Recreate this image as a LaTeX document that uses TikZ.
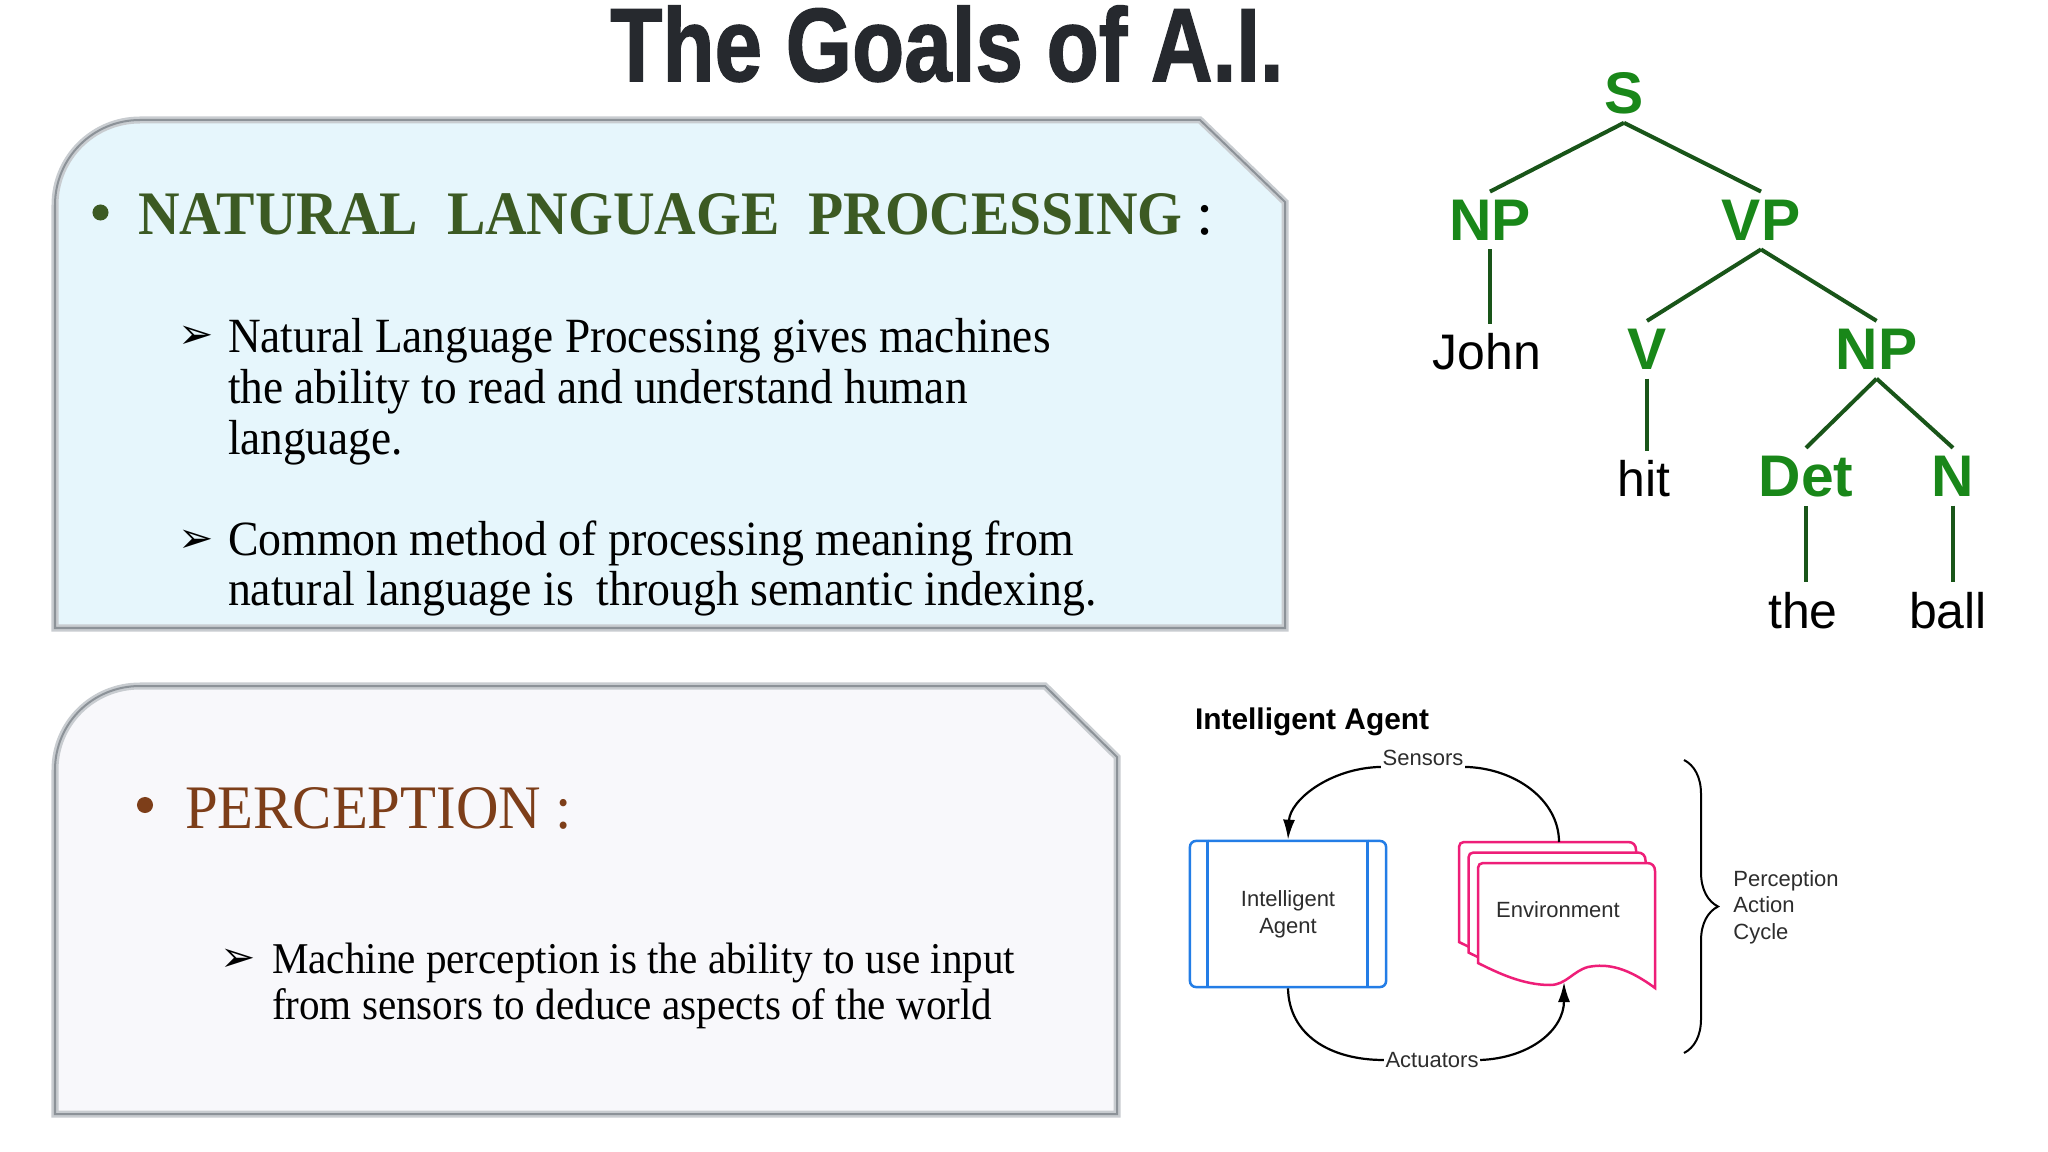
\documentclass[tikz,border=0pt]{standalone}
\usepackage{fontspec}
\setmainfont{Liberation Serif}
\newfontfamily\arialf{Liberation Sans}
\newfontfamily\titlef[BoldFeatures={FakeBold=1.5}]{Liberation Sans}
\newfontfamily\dejavuf{DejaVu Sans}
\usetikzlibrary{arrows.meta,calc,decorations.pathreplacing}
\definecolor{titlecol}{RGB}{38,41,46}
\definecolor{nlpgreen}{RGB}{60,90,35}
\definecolor{percbrown}{RGB}{125,62,25}
\definecolor{treegreen}{RGB}{25,135,25}
\definecolor{treeline}{RGB}{25,85,25}
\definecolor{boxblue}{RGB}{230,246,252}
\definecolor{boxgrey}{RGB}{248,248,251}
\definecolor{bevelout}{RGB}{200,204,208}
\definecolor{bevelin}{RGB}{140,146,152}
\definecolor{agentblue}{RGB}{35,125,230}
\definecolor{envpink}{RGB}{238,30,120}
\definecolor{lblgrey}{RGB}{45,45,45}
\begin{document}
\begin{tikzpicture}[x=0.01cm,y=-0.01cm,
  txt/.style={inner sep=0pt, outer sep=0pt},
  treecat/.style={font=\arialf\bfseries\fontsize{16.7}{18}\selectfont, text=treegreen, inner sep=0.08cm, anchor=base},
  treeword/.style={font=\arialf\fontsize{14.2}{16}\selectfont, text=black, inner sep=0.09cm, anchor=base},
  treeedge/.style={draw=treeline, line width=0.04cm},
  smalllbl/.style={font=\arialf\fontsize{6.26}{7.6}\selectfont, text=lblgrey},
  cycleline/.style={line width=0.022cm},
  cyclearrow/.style={line width=0.022cm, -{Latex[length=0.2cm,width=0.12cm]}},
  envdoc/.style={draw=envpink, line width=0.025cm, fill=white},
  bevelA/.style={line width=0.07cm, draw=bevelout},
  bevelB/.style={line width=0.02cm, draw=bevelin},
  arrowbullet/.style={inner sep=0pt, outer sep=0pt, font=\dejavuf\fontsize{12}{13}\selectfont}]
\fill[white] (0,0) rectangle (2048,1152);
\useasboundingbox (0,0) rectangle (2048,1152);

% ---------- boxes ----------
\draw[bevelA, fill=boxblue] (55,628) -- (55,205) .. controls (55,158) and (93,120) .. (140,120) -- (1200,120) -- (1285,202) -- (1285,628) -- cycle;
\draw[bevelB] (55,628) -- (55,205) .. controls (55,158) and (93,120) .. (140,120) -- (1200,120) -- (1285,202) -- (1285,628) -- cycle;
\draw[bevelA, fill=boxgrey] (55,1114) -- (55,770) .. controls (55,723) and (93,686) .. (140,686) -- (1045,686) -- (1117,757) -- (1117,1114) -- cycle;
\draw[bevelB] (55,1114) -- (55,770) .. controls (55,723) and (93,686) .. (140,686) -- (1045,686) -- (1117,757) -- (1117,1114) -- cycle;

% ---------- title ----------
\node[txt, anchor=base, font=\titlef\bfseries\fontsize{29.6}{32}\selectfont, text=titlecol] (title) at (947,81) {\scalebox{0.82}[1]{The Goals of A.I.}};

% ---------- NLP text ----------
\node[circle, fill=nlpgreen, minimum size=0.16cm, inner sep=0pt] (b1) at (100.5,212.5) {};
\node[txt, anchor=base west, font=\bfseries\fontsize{17.6}{20}\selectfont, text=nlpgreen] (nlp) at (138,235) {\scalebox{0.93}[1]{NATURAL\ \ LANGUAGE\ \ PROCESSING}};
\node[txt, anchor=base west, font=\fontsize{17.6}{20}\selectfont] (nlpc) at (1196,235) {:};
\node[arrowbullet] (a1) at (196,337) {➢};
\node[txt, anchor=base west, font=\fontsize{14}{14.5}\selectfont] (p1) at (228,353) {\scalebox{0.92}[1]{\begin{tabular}[t]{@{}l@{}}Natural Language Processing gives machines\\ the ability to read and understand human\\ language.\end{tabular}}};
\node[arrowbullet] (a2) at (196,541) {➢};
\node[txt, anchor=base west, font=\fontsize{14}{14.5}\selectfont] (p2) at (228,555) {\scalebox{0.93}[1]{\begin{tabular}[t]{@{}l@{}}Common method of processing meaning from\\ natural language is\ \ through semantic indexing.\end{tabular}}};

% ---------- Perception text ----------
\node[circle, fill=percbrown, minimum size=0.16cm, inner sep=0pt] (b2) at (145,805) {};
\node[txt, anchor=base west, font=\fontsize{17.6}{20}\selectfont, text=percbrown] (perc) at (185,828) {\scalebox{0.95}[1]{PERCEPTION :}};
\node[arrowbullet] (a3) at (238,960) {➢};
\node[txt, anchor=base west, font=\fontsize{12.5}{13.1}\selectfont] (p3) at (272,973) {\scalebox{0.935}[1]{\begin{tabular}[t]{@{}l@{}}Machine perception is the ability to use input\\ from sensors to deduce aspects of the world\end{tabular}}};

% ---------- parse tree ----------
\node[treecat] (S) at (1624,113.5) {S};
\node[treecat] (NP) at (1490,240.7) {NP};
\node[treecat] (VP) at (1761,240.7) {VP};
\node[treeword] (John) at (1487,370) {John};
\node[treecat] (V) at (1647,370) {V};
\node[treecat] (NP2) at (1876.6,370) {NP};
\node[treeword] (hit) at (1644,497) {hit};
\node[treecat] (Det) at (1806,497) {Det};
\node[treecat] (N) at (1953,497) {N};
\node[treeword] (the) at (1803,628) {the};
\node[treeword] (ball) at (1948,628) {ball};
\draw[treeedge] (S.south) -- (NP.north);
\draw[treeedge] (S.south) -- (VP.north);
\draw[treeedge] (NP.south) -- (NP.south |- John.north);
\draw[treeedge] (VP.south) -- (V.north);
\draw[treeedge] (VP.south) -- (NP2.north);
\draw[treeedge] (V.south) -- (V.south |- hit.north);
\draw[treeedge] (NP2.south) -- (Det.north);
\draw[treeedge] (NP2.south) -- (N.north);
\draw[treeedge] (Det.south) -- (Det.south |- the.north);
\draw[treeedge] (N.south) -- (N.south |- ball.north);

% ---------- intelligent agent diagram ----------
\node[txt, anchor=base west, font=\arialf\bfseries\fontsize{8.5}{10}\selectfont] (iatitle) at (1195,729) {Intelligent Agent};
\node[draw=agentblue, line width=0.025cm, rounded corners=0.06cm, minimum width=1.96cm, minimum height=1.46cm, inner sep=0pt, smalllbl, align=center] (agent) at (1288,914) {Intelligent\\Agent};
\draw[agentblue, line width=0.025cm] ($(agent.north west)+(19,0)$) -- ($(agent.south west)+(19,0)$);
\draw[agentblue, line width=0.025cm] ($(agent.north east)+(-20,0)$) -- ($(agent.south east)+(-20,0)$);

\foreach \dx/\dy in {0/0, 9.5/10.5, 19/21} {
  \begin{scope}[shift={(1459+\dx,842+\dy)}]
    \draw[envdoc] (0,100) -- (0,5) .. controls (0,2) and (2,0) .. (5,0) -- (169,0) .. controls (174,0) and (177,3) .. (177,8) -- (177,125) .. controls (150,105) and (130,100) .. (110,104) .. controls (95,108) and (88,122) .. (72,122) .. controls (45,122) and (20,110) .. (0,100) -- cycle;
  \end{scope}
}
\node[smalllbl] (env) at (1558,910) {Environment};
\coordinate (envtop) at (1559,842);
\coordinate (envbot) at (1564,982);

\node[smalllbl, anchor=base, inner sep=0.01cm] (sens) at (1423,765) {Sensors};
\draw[cycleline] (envtop) .. controls (1559,800) and (1515,768) .. (sens.south east);
\draw[cyclearrow] (sens.south west) .. controls (1330,768) and (1290,800) .. (agent.north);

\node[smalllbl, inner sep=0.01cm] (act) at (1432,1060) {Actuators};
\draw[cycleline] (agent.south) .. controls (1289,1035) and (1330,1060) .. (act.west);
\draw[cyclearrow] (act.east) .. controls (1530,1058) and (1564,1030) .. (envbot);

\coordinate (brtop) at (1684,760);
\coordinate (brbot) at (1684,1053);
\draw[decorate, decoration={brace, amplitude=0.34cm}, line width=0.02cm] (brtop) -- (brbot);
\node[smalllbl, anchor=west, align=left, font=\arialf\fontsize{6.26}{7.54}\selectfont] (pac) at (1721,907) {Perception\\Action\\Cycle};
\end{tikzpicture}
\end{document}
